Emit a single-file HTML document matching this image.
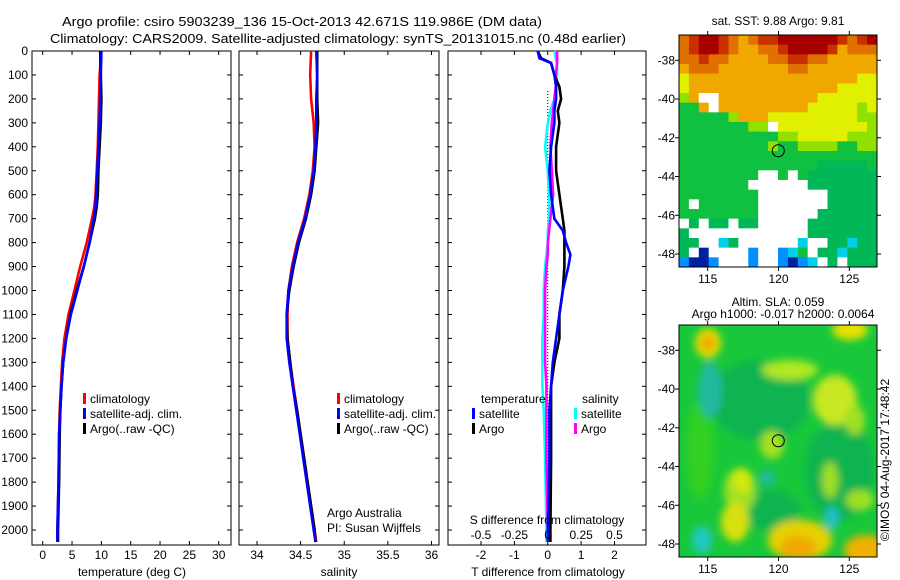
<!DOCTYPE html>
<html><head><meta charset="utf-8"><style>
html,body{margin:0;padding:0;background:#fff;}
svg{display:block;font-family:"Liberation Sans",sans-serif;}
</style></head><body>
<svg id="fig" width="900" height="580" viewBox="0 0 900 580" xmlns="http://www.w3.org/2000/svg">
<defs>
<filter id="blur" x="-50%" y="-50%" width="200%" height="200%"><feGaussianBlur stdDeviation="4"/></filter>
<clipPath id="m2clip"><rect x="679" y="325" width="198" height="232"/></clipPath>
</defs>
<text x="62" y="26" font-size="13" textLength="480" lengthAdjust="spacingAndGlyphs">Argo profile: csiro 5903239_136 15-Oct-2013 42.671S 119.986E (DM data)</text>
<text x="50" y="43" font-size="13" textLength="576" lengthAdjust="spacingAndGlyphs">Climatology: CARS2009. Satellite-adjusted climatology: synTS_20131015.nc (0.48d earlier)</text>
<g id="plots"></g>
<text transform="translate(889,460) rotate(-90)" font-size="12" text-anchor="middle">©IMOS 04-Aug-2017 17:48:42</text>
</svg>
<script>
// ---------- data ----------
const depths = [0,100,200,300,400,500,600,650,700,800,900,1000,1100,1200,1300,1400,1500,1600,1800,2000,2050];
const tempClim = [10.0,9.7,9.6,9.5,9.4,9.2,9.0,8.8,8.4,7.5,6.4,5.4,4.4,3.7,3.3,3.1,2.9,2.8,2.7,2.5,2.5];
const tempSat  = [10.0,9.9,9.8,9.7,9.5,9.3,9.1,9.0,8.7,8.0,7.0,5.9,4.8,4.0,3.5,3.2,3.0,2.8,2.7,2.5,2.5];
const tempArgo = [9.8,9.9,10.0,9.9,9.7,9.5,9.4,9.2,8.9,8.0,7.0,5.8,4.7,4.0,3.5,3.2,3.0,2.9,2.8,2.6,2.6];
const salDepths = [0,100,200,300,400,500,600,700,800,900,1000,1100,1200,1300,1400,1500,1600,1700,1800,1900,2000,2050];
const salClim = [34.62,34.61,34.62,34.65,34.66,34.64,34.60,34.54,34.46,34.40,34.36,34.35,34.35,34.38,34.42,34.46,34.50,34.54,34.58,34.62,34.66,34.68];
const salSat  = [34.68,34.69,34.68,34.68,34.67,34.65,34.61,34.55,34.47,34.41,34.36,34.34,34.34,34.37,34.41,34.45,34.49,34.53,34.57,34.61,34.65,34.67];
const salArgo = [34.69,34.69,34.69,34.70,34.68,34.66,34.62,34.56,34.48,34.42,34.37,34.34,34.35,34.38,34.41,34.46,34.50,34.54,34.58,34.62,34.66,34.67];
const dDepths = [0,30,50,100,150,200,250,300,400,500,600,700,750,800,850,900,1000,1100,1200,1300,1400,1500,1700,2000,2050];
const dTSat  = [-0.3,-0.25,0.1,0.2,0.25,0.25,0.2,0.2,0.1,0.05,0.1,0.2,0.45,0.55,0.68,0.62,0.45,0.35,0.25,0.15,0.1,0.05,0.05,0.0,0.0];
const dTArgo = [-0.3,-0.2,0.1,0.2,0.35,0.4,0.3,0.35,0.25,0.25,0.35,0.45,0.5,0.5,0.5,0.5,0.45,0.35,0.35,0.2,0.1,0.1,0.1,0.08,0.08];
const dSSat  = [0.05,0.06,0.07,0.07,0.06,0.05,0.02,0.0,-0.02,0.0,0.01,0.01,0.0,0.0,-0.01,-0.02,-0.03,-0.03,-0.04,-0.04,-0.04,-0.03,-0.02,-0.01,-0.01];
const dSArgo = [0.07,0.07,0.07,0.06,0.06,0.05,0.04,0.03,0.02,0.03,0.04,0.02,0.01,0.0,0.0,-0.01,-0.02,-0.02,-0.02,-0.02,-0.01,-0.01,-0.01,0.0,0.0];
const depthTicks = [0,100,200,300,400,500,600,700,800,900,1000,1100,1200,1300,1400,1500,1600,1700,1800,1900,2000];
const tempTicks = [0,5,10,15,20,25,30];
const salTicks = [34,34.5,35,35.5,36];
const dTTicks = [-2,-1,0,1,2];
const dSTickLabels = ["-0.5","-0.25","0","0.25","0.5"];
const dSTicks = [-0.5,-0.25,0,0.25,0.5];
const lonTicks = [115,120,125];
const latTicks = [-38,-40,-42,-44,-46,-48];
const argoLon = 119.986, argoLat = -42.671;

// ---------- helpers ----------
const NS="http://www.w3.org/2000/svg";
const root=document.getElementById('plots');
function mk(tag,attrs,parent){const e=document.createElementNS(NS,tag);for(const k in attrs)e.setAttribute(k,attrs[k]);(parent||root).appendChild(e);return e;}
const Y0=51, Y1=545;
const yDepth = d => Y0 + d*0.2395;
function linX(v0,v1,p0,p1){return v=>p0+(v-v0)*(p1-p0)/(v1-v0);}
const xT = linX(0,30,42.7,218.7);
const xS = linX(34,36,257,431.5);
const xDT = linX(-2,2,481,614.5);
const xDS = linX(-0.5,0.5,481,614.5);

function frame(x0,x1,name){
  const r=mk('rect',{x:x0,y:Y0,width:x1-x0,height:Y1-Y0,fill:'none',stroke:'#000','stroke-width':1});
  
  
  depthTicks.forEach(d=>{const y=yDepth(d);
    mk('line',{x1:x0,x2:x0+4,y1:y,y2:y,stroke:'#000'});
    mk('line',{x1:x1-4,x2:x1,y1:y,y2:y,stroke:'#000'});});
}
function xticks(ticks,fx,labels,name){
  ticks.forEach((t,i)=>{const x=fx(t);
    mk('line',{x1:x,x2:x,y1:Y1,y2:Y1-4,stroke:'#000'});
    mk('line',{x1:x,x2:x,y1:Y0,y2:Y0+4,stroke:'#000'});
    const tx=mk('text',{x:x,y:Y1+14,'font-size':12,'text-anchor':'middle'});
    tx.textContent=labels?labels[i]:String(t);
    
    
  });
}
function step(ds,vs,fx,color,name){
  let p='';
  for(let i=0;i<ds.length;i++){const x=fx(vs[i]).toFixed(1),y=yDepth(ds[i]).toFixed(1);
    p+=(i?' L':'M')+x+' '+y;}
  const e=mk('path',{d:p,fill:'none',stroke:color,'stroke-width':2.6});
  
  
}
function txt(x,y,s,name,size,anchor){const t=mk('text',{x:x,y:y,'font-size':size||12,'text-anchor':anchor||'start'});t.textContent=s;
  
  return t;}
function legend(x,y,color,label,name){
  const m=mk('rect',{x:x,y:y-10,width:3,height:11,fill:color});
  
  
  txt(x+7,y,label,name);
}

// ---------- panel 1: temperature ----------
frame(32,231,'temperature-panel');
depthTicks.forEach(d=>txt(28,yDepth(d)+4,String(d),'depth-tick-label',12,'end'));
xticks(tempTicks,xT,null,'temperature-tick-label');
step(depths,tempClim,xT,'#f00','temp-climatology-line');
step(depths,tempArgo,xT,'#000','temp-argo-line');
step(depths,tempSat,xT,'#00f','temp-satellite-line');
txt(132,576,'temperature (deg C)','temperature-axis-title',12,'middle');
legend(83,403,'#f00','climatology','legend-climatology');
legend(83,418,'#00f','satellite-adj. clim.','legend-satellite');
legend(83,433,'#000','Argo(..raw -QC)','legend-argo');

// ---------- panel 2: salinity ----------
frame(239,439,'salinity-panel');
xticks(salTicks,xS,null,'salinity-tick-label');
step(salDepths,salClim,xS,'#f00','sal-climatology-line');
step(salDepths,salArgo,xS,'#000','sal-argo-line');
step(salDepths,salSat,xS,'#00f','sal-satellite-line');
txt(339,576,'salinity','salinity-axis-title',12,'middle');
legend(337,403,'#f00','climatology','legend-sal-climatology');
legend(337,418,'#00f','satellite-adj. clim.','legend-sal-satellite');
legend(337,433,'#000','Argo(..raw -QC)','legend-sal-argo');
txt(327,517,'Argo Australia','argo-australia-label');
txt(327,532,'PI: Susan Wijffels','pi-label');

// ---------- panel 3: differences ----------
frame(448,646,'difference-panel');
xticks(dTTicks,xDT,null,'t-diff-tick-label');
mk('line',{x1:xDT(0),x2:xDT(0),y1:Y0+40,y2:Y1,stroke:'#000','stroke-dasharray':'1 2'});
step(dDepths,dSSat,xDS,'#0ff','s-diff-satellite-line');
step(dDepths,dSArgo,xDS,'#f0f','s-diff-argo-line');
step(dDepths,dTArgo,xDT,'#000','t-diff-argo-line');
step(dDepths,dTSat,xDT,'#00f','t-diff-satellite-line');
dSTicks.forEach((t,i)=>txt(xDS(t),539,dSTickLabels[i],'s-diff-tick-label',12,'middle'));
txt(547,524,'S difference from climatology','s-diff-axis-title',12,'middle');
txt(548,576,'T difference from climatology','t-diff-axis-title',12,'middle');
txt(481,403,'temperature','legend-temperature-header');
legend(472,418,'#00f','satellite','legend-t-satellite');
legend(472,433,'#000','Argo','legend-t-argo');
txt(582,403,'salinity','legend-salinity-header');
legend(574,418,'#0ff','satellite','legend-s-satellite');
legend(574,433,'#f0f','Argo','legend-s-argo');

// ---------- maps ----------
const MX0=679, MX1=877;
const lonX = linX(115,125,707.7,849.3);
const latY1 = linX(-38,-48,60.3,254);
const latY2 = v=>latY1(v)+290;
const pal={R:'#a80000',Q:'#c83000',O:'#e07000',A:'#f0a800',Y:'#e0f000',L:'#90e000',G:'#10c040',T:'#00b858',W:'#ffffff',B:'#0090ff',C:'#00d0e8',N:'#0020a0'};
const sstRows=[
"OQRRQOAOQQRRRRRRQOQR",
"OQRRQOAAOOQRRRRQAOOO",
"OOQOOAAAAOOQQOOAAAAA",
"AOOOAAAAAAAOOAAAAAAA",
"YAAAAAAAAAAAAAAAAAYY",
"YAAAAAAAAAAAAAAAYYYY",
"LAWWAAAAAAAAAAYYYYYY",
"GGAWAAAAAAAAAYYYYYLY",
"GGGGGLAAAYYYYYYYYYLL",
"GGGGGGGLLWYYYYYYYYYL",
"GGGGGGGGGGLLYYYYYLLL",
"GGGGGGGGGLGGLLLLGGLL",
"GGGGGGGGGGGGGGGGGGGG",
"GGGGGGGGGGGGGGTTTTTG",
"GGGGGGGGWWGWGTTTTTTT",
"GGGGGGGWWWWWWTTTTTTT",
"GGGGGGGGWWWWWWWTTTTT",
"GWGGGGGGWWWWWWWTTTTT",
"GGGGGGGGWWWWWWTTTTTT",
"WTWTTWTTWWWWWTTTTTTT",
"TWWWWWWWWWWWWTTTTTTT",
"TTWWCTWWWWWWCWWTTCTT",
"TWNWWWWBWWBCGWTTCTTT",
"BNNBWWWBWWBNBCWTWTTT"];
const cw=(MX1-MX0)/20, ch=232/24;
const sst=mk('g',{});


sstRows.forEach((row,r)=>{for(let c=0;c<row.length;c++){
  mk('rect',{x:MX0+c*cw,y:35+r*ch,width:cw+0.5,height:ch+0.5,fill:pal[row[c]]},sst);}});
function mapAxes(yOff,latF,name){
  const fr=mk('rect',{x:MX0,y:35+yOff,width:MX1-MX0,height:232,fill:'none',stroke:'#000'});
  
  
  lonTicks.forEach(l=>{const x=lonX(l);
    mk('line',{x1:x,x2:x,y1:35+yOff,y2:31+yOff,stroke:'#000'});
    mk('line',{x1:x,x2:x,y1:267+yOff,y2:271+yOff,stroke:'#000'});
    txt(x,283+yOff,String(l),'lon-tick-label',12,'middle');});
  latTicks.forEach(l=>{const y=latF(l);
    mk('line',{x1:MX0,x2:MX0-4,y1:y,y2:y,stroke:'#000'});
    mk('line',{x1:MX1,x2:MX1+4,y1:y,y2:y,stroke:'#000'});
    txt(MX0-4,y+4,String(l),'lat-tick-label',12,'end');});
  const c=mk('circle',{cx:lonX(argoLon),cy:latF(argoLat),r:6,fill:'none',stroke:'#000'});
  
  
}
mapAxes(0,latY1,'sst-map-frame');
txt(778,25,'sat. SST: 9.88 Argo: 9.81','sst-map-title',12,'middle');

// SLA map
const sla=mk('g',{'clip-path':'url(#m2clip)'});


mk('rect',{x:MX0,y:325,width:198,height:232,fill:'#18c83a'},sla);
const blobs=mk('g',{filter:'url(#blur)'},sla);
[[760,400,50,40,'#10b450'],[840,470,35,50,'#10b450'],[770,510,30,20,'#10b450'],[700,450,14,50,'#30d020'],
 [708,343,13,15,'#e8e000'],[708,343,7,8,'#f0a000'],[850,330,18,10,'#e8e000'],
 [710,390,12,28,'#20b8a0'],[790,370,28,10,'#b0e820'],[835,400,22,25,'#c8e820'],[855,420,10,15,'#a0e020'],
 [772,445,12,14,'#a8e020'],[740,490,16,22,'#a0e020'],[742,480,9,12,'#d8e810'],[830,480,8,18,'#a0e020'],
 [767,478,8,8,'#20b8a0'],[800,540,32,20,'#e8d000'],[798,548,18,12,'#f0a800'],[866,550,22,15,'#f0b000'],
 [735,522,14,20,'#d8e010'],[702,540,10,14,'#20c8c0'],[832,518,7,11,'#20c0d0'],[860,500,14,10,'#a0e020']].forEach(b=>{
  mk('ellipse',{cx:b[0],cy:b[1],rx:b[2],ry:b[3],fill:b[4]},blobs);});
mapAxes(290,latY2,'sla-map-frame');
txt(778,306,'Altim. SLA: 0.059','sla-map-title',12,'middle');
txt(783,318,'Argo h1000: -0.017 h2000: 0.0064','sla-map-subtitle',12,'middle');
</script>
</body></html>
